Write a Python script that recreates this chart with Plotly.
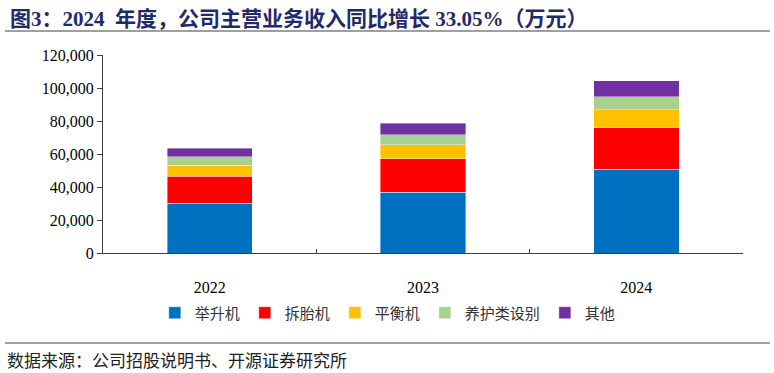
import plotly.graph_objects as go

years = ["2022", "2023", "2024"]
series_names = ["举升机", "拆胎机", "平衡机", "养护类设别", "其他"]
lift = [30100, 36800, 50700]
tire = [16400, 20200, 25100]
balance = [6700, 8600, 11100]
maint = [5200, 6100, 7800]
other = [5100, 6900, 9700]
colors = ["#0070C0", "#FF0000", "#FFC000", "#A9D18E", "#7030A0"]
y_ticks = [0, 20000, 40000, 60000, 80000, 100000, 120000]
y_tick_text = ["0", "20,000", "40,000", "60,000", "80,000", "100,000", "120,000"]
title_text = "图3：2024  年度，公司主营业务收入同比增长 33.05%（万元）"
source_text = "数据来源：公司招股说明书、开源证券研究所"

serif = "Liberation Serif, Times New Roman, Noto Sans CJK SC, serif"
cjk = "Noto Sans CJK SC, sans-serif"

fig = go.Figure()
for name, vals, c in zip(series_names, [lift, tire, balance, maint, other], colors):
    fig.add_trace(go.Bar(
        x=years, y=vals, name=name,
        marker=dict(color=c, line=dict(color="rgba(255,255,255,0.5)", width=0.8)),
    ))

fig.update_layout(
    barmode="stack",
    bargap=0.6,
    width=774, height=373,
    margin=dict(l=103, r=31, t=55, b=120, autoexpand=False),
    paper_bgcolor="white", plot_bgcolor="white",
    showlegend=True,
    legend=dict(
        orientation="h", x=0.445, xanchor="center", y=-0.303, yanchor="middle",
        font=dict(family=cjk, size=15, color="#333333"),
        itemwidth=30, traceorder="normal",
    ),
    font=dict(family=serif, color="#000000"),
)

fig.update_yaxes(
    range=[0, 120000], tickvals=y_ticks, ticktext=y_tick_text,
    showline=True, linecolor="#404040", linewidth=1.2,
    ticks="outside", ticklen=5, tickcolor="#404040", tickwidth=1,
    showgrid=False, zeroline=False,
    tickfont=dict(family=serif, size=16, color="#000000"),
)
fig.update_xaxes(
    showline=True, linecolor="#404040", linewidth=1.2,
    ticks="inside", ticklen=4, tickcolor="#404040", tickson="boundaries",
    showgrid=False,
    tickfont=dict(family=serif, size=16, color="#000000"),
    ticklabelstandoff=20,
)

fig.add_annotation(
    text="<b>" + title_text + "</b>", xref="paper", yref="paper",
    x=-0.148, y=1.18, xanchor="left", yanchor="middle", showarrow=False,
    font=dict(family=serif, size=21, color="#1F2A6B"),
)
fig.add_annotation(
    text=source_text, xref="paper", yref="paper",
    x=-0.153, y=-0.54, xanchor="left", yanchor="middle", showarrow=False,
    font=dict(family=cjk, size=17, color="#222222"),
)
fig.add_shape(type="line", xref="paper", yref="paper",
              x0=-0.153, x1=1.042, y0=1.121, y1=1.121,
              line=dict(color="#7F7F7F", width=1.5))
fig.add_shape(type="line", xref="paper", yref="paper",
              x0=-0.153, x1=1.042, y0=-0.4545, y1=-0.4545,
              line=dict(color="#7F7F7F", width=1.5))

fig.write_html("out.html", config={"displayModeBar": False},
               post_script="document.body.style.margin='0';document.body.style.overflow='hidden';")
